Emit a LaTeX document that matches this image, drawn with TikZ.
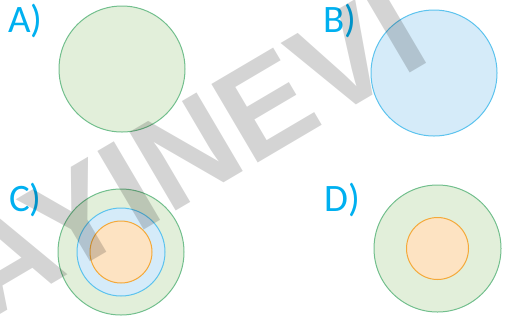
\documentclass[tikz,border=0pt]{standalone}
\usepackage{fontspec}
\setmainfont{Carlito}
\newfontfamily\wmfont{Liberation Sans}
\definecolor{ggreen}{HTML}{E2EFDA}
\definecolor{dgreen}{HTML}{72BF8D}
\definecolor{gblue}{HTML}{D5EBF9}
\definecolor{dblue}{HTML}{5CC3EE}
\definecolor{gorange}{HTML}{FDE3C2}
\definecolor{dorange}{HTML}{F4A93A}
\definecolor{mcyan}{HTML}{00B0F0}

\begin{document}
\begin{tikzpicture}[x=1bp,y=-1bp,
  ring/.style={circle, inner sep=0pt, outer sep=0pt, line width=1bp},
  greenring/.style={ring, draw=dgreen, fill=ggreen},
  bluering/.style={ring, draw=dblue, fill=gblue},
  orangering/.style={ring, draw=dorange, fill=gorange},
  tag/.style={anchor=base west, inner sep=0pt, text=mcyan, font=\fontsize{39}{39}\selectfont}]

\useasboundingbox (0,0) rectangle (506,322);
\begin{scope}
\clip (0,0) rectangle (506,322);

% Labels
\node[tag] (la) at (8,32) {A)};
\node[tag] (lb) at (323,32) {B)};
\node[tag] (lc) at (9,211) {C)};
\node[tag] (ld) at (324,211) {D)};

% A and B
\node[greenring, minimum size=126bp] (ca) at (122,69) {};
\node[bluering, minimum size=126bp] (cb) at (434,73) {};

% C
\node[greenring, minimum size=126bp] (cc1) at (121,252) {};
\node[bluering, minimum size=88bp] (cc2) at (cc1.center) {};
\node[orangering, minimum size=62bp] (cc3) at (cc1.center) {};

% D
\node[greenring, minimum size=127bp] (cd1) at (437.5,248.5) {};
\node[orangering, minimum size=62bp] (cd2) at (cd1.center) {};

% Watermark
\node[rotate=30.5, anchor=base west, inner sep=0pt, text=black, opacity=.17,
  font=\wmfont\fontsize{133}{133}\selectfont\bfseries] (wm) at (-12,322) {AYINEVI};
\end{scope}

\end{tikzpicture}
\end{document}
